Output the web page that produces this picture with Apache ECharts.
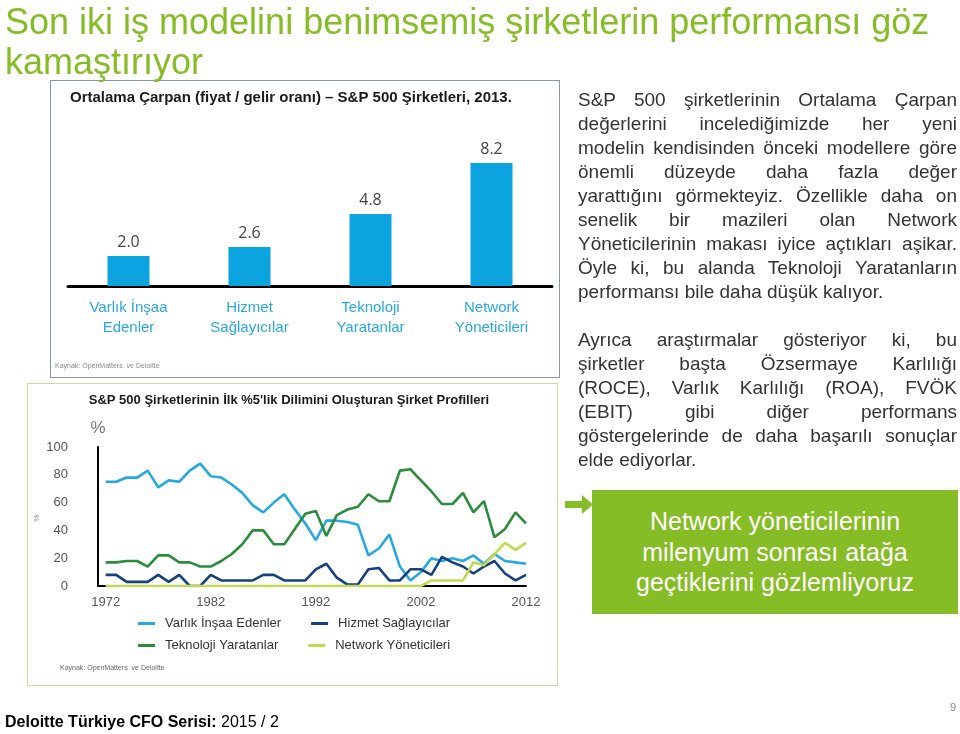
<!DOCTYPE html>
<html>
<head>
<meta charset="utf-8">
<script src="https://cdn.jsdelivr.net/npm/echarts@6/dist/echarts.min.js"></script>
<style>
  html, body { margin: 0; padding: 0; background: #fff; }
  #page { position: relative; width: 960px; height: 734px; overflow: hidden; font-family: Arial, 'Liberation Sans', sans-serif; }
  #chart { position: absolute; left: 0; top: 0; width: 960px; height: 734px; }
  .frame { position: absolute; box-sizing: border-box; }
  .headline { position: absolute; left: 5px; top: 2px; font-size: 36px; line-height: 40px; color: #86BC25; white-space: nowrap; }
  .body { position: absolute; left: 578px; top: 88px; width: 379px; font-size: 19px; line-height: 24px; color: #333; }
  .body div { text-align: justify; text-align-last: justify; }
  .body div.last { text-align-last: left; }
  .box { position: absolute; left: 592px; top: 490px; width: 366px; height: 124px; background: #86BC25; color: #fff;
         font-size: 25px; line-height: 30.5px; text-align: center; display: flex; align-items: center; justify-content: center; }
  .footer { position: absolute; left: 5px; top: 713px; font-size: 16px; color: #000; white-space: nowrap; }
  .pageno { position: absolute; left: 950px; top: 701px; font-size: 11px; color: #888; }
</style>
</head>
<body>
<div id="page">
  <div class="frame" style="left:50px;top:80px;width:510px;height:298px;border:1px solid #8596a6;"></div>
  <div class="frame" style="left:27px;top:383px;width:531px;height:303px;border:1px solid #c8dd98;"></div>
  <div id="chart"></div>
  <div class="headline">Son iki iş modelini benimsemiş şirketlerin performansı göz<br>kamaştırıyor</div>
  <div class="body">
    <div>S&amp;P 500 şirketlerinin Ortalama Çarpan</div>
    <div>değerlerini incelediğimizde her yeni</div>
    <div>modelin kendisinden önceki modellere göre</div>
    <div>önemli düzeyde daha fazla değer</div>
    <div>yarattığını görmekteyiz. Özellikle daha on</div>
    <div>senelik bir mazileri olan Network</div>
    <div>Yöneticilerinin makası iyice açtıkları aşikar.</div>
    <div>Öyle ki, bu alanda Teknoloji Yaratanların</div>
    <div class="last">performansı bile daha düşük kalıyor.</div>
    <div class="last">&nbsp;</div>
    <div>Ayrıca araştırmalar gösteriyor ki, bu</div>
    <div>şirketler başta Özsermaye Karlılığı</div>
    <div>(ROCE), Varlık Karlılığı (ROA), FVÖK</div>
    <div>(EBIT) gibi diğer performans</div>
    <div>göstergelerinde de daha başarılı sonuçlar</div>
    <div class="last">elde ediyorlar.</div>
  </div>
  <svg style="position:absolute;left:560px;top:490px;" width="36" height="30">
    <rect x="5" y="11" width="20" height="7" fill="#86BC25"></rect>
    <polygon points="22,5 33,14.5 22,24" fill="#86BC25"></polygon>
  </svg>
  <div class="box"><div>Network yöneticilerinin<br>milenyum sonrası atağa<br>geçtiklerini gözlemliyoruz</div></div>
  <div class="footer"><b>Deloitte Türkiye CFO Serisi:</b> 2015 / 2</div>
  <div class="pageno">9</div>
</div>
<script>
  // bar chart: ortalama çarpan
  const barCats = ['Varlık İnşaa\nEdenler', 'Hizmet\nSağlayıcılar', 'Teknoloji\nYaratanlar', 'Network\nYöneticileri'];
  const barValues = [2.0, 2.6, 4.8, 8.2];

  // line chart: ilk %5'lik dilim
  const years = [1972, 1973, 1974, 1975, 1976, 1977, 1978, 1979, 1980, 1981,
    1982, 1983, 1984, 1985, 1986, 1987, 1988, 1989, 1990, 1991,
    1992, 1993, 1994, 1995, 1996, 1997, 1998, 1999, 2000, 2001,
    2002, 2003, 2004, 2005, 2006, 2007, 2008, 2009, 2010, 2011, 2012];
  const yearLabels = [1972, 1982, 1992, 2002, 2012];
  const varlik = [75, 75, 78, 78, 83, 71, 76, 75, 83, 88,
    79, 78, 73, 67, 58, 53, 60, 66, 55, 45,
    33, 47, 47, 46, 44, 22, 27, 37, 14, 4,
    10, 20, 18, 20, 18, 22, 16, 23, 18, 17, 16];
  const hizmet = [8, 8, 3, 3, 3, 8, 3, 8, 0, 0,
    8, 4, 4, 4, 4, 8, 8, 4, 4, 4,
    12, 16, 6, 1, 1, 12, 13, 4, 4, 12,
    12, 8, 21, 17, 14, 9, 14, 18, 9, 4, 8];
  const teknoloji = [17, 17, 18, 18, 14, 22, 22, 17, 17, 14,
    14, 18, 23, 30, 40, 40, 30, 30, 41, 52,
    54, 36, 51, 55, 57, 66, 61, 61, 83, 84,
    76, 68, 59, 59, 67, 53, 61, 35, 41, 53, 45];
  const network = [0, 0, 0, 0, 0, 0, 0, 0, 0, 0,
    0, 0, 0, 0, 0, 0, 0, 0, 0, 0,
    0, 0, 0, 0, 0, 0, 0, 0, 0, 0,
    0, 4, 4, 4, 4, 17, 15, 23, 31, 26, 31];

  const names = ['Varlık İnşaa Edenler', 'Hizmet Sağlayıcılar', 'Teknoloji Yaratanlar', 'Network Yöneticileri'];
  const colors = ['#25A9DE', '#17407E', '#2C8C3C', '#C3D94E'];

  const pair = arr => years.map((y, i) => [y, arr[i]]);
  const lineSeries = (name, arr, color) => ({
    type: 'line', name: name, xAxisIndex: 1, yAxisIndex: 1,
    data: pair(arr), showSymbol: false, symbol: 'none',
    lineStyle: { color: color, width: 2.6 }, itemStyle: { color: color }
  });

  const legendText = { color: '#333', fontSize: 13, fontFamily: 'Arial', padding: [0, 0, 0, 5] };

  const myChart = echarts.init(document.getElementById('chart'));
  myChart.setOption({
    animation: false,
    graphic: [
      { type: 'text', x: 70, y: 98, style: { text: 'Ortalama Çarpan (fiyat / gelir oranı) – S&P 500 Şirketleri, 2013.',
        fontFamily: "'Liberation Sans Narrow', 'Arial Narrow', Arial", fontWeight: 'bold', fontSize: 15, fill: '#1a1a1a', verticalAlign: 'middle' } },
      { type: 'text', x: 55, y: 366, style: { text: 'Kaynak: OpenMatters  ve Deloitte', fontSize: 7, fill: '#888', verticalAlign: 'middle' } },
      { type: 'text', x: 289, y: 400, style: { text: "S&P 500 Şirketlerinin İlk %5'lik Dilimini Oluşturan Şirket Profilleri",
        fontFamily: 'Arial', fontWeight: 'bold', fontSize: 13, fill: '#1a1a1a', align: 'center', verticalAlign: 'middle' } },
      { type: 'text', x: 37, y: 518, rotation: Math.PI / 2, style: { text: '%', fontSize: 8, fill: '#888', align: 'center', verticalAlign: 'middle' } },
      { type: 'text', x: 60, y: 668, style: { text: 'Kaynak: OpenMatters  ve Deloitte', fontSize: 7, fill: '#666', verticalAlign: 'middle' } }
    ],
    grid: [
      { left: 68, top: 136, width: 484, height: 150 },
      { left: 98, top: 447, width: 428, height: 139 }
    ],
    legend: [
      { data: names.slice(0, 2), left: 133, top: 612, icon: 'rect', itemWidth: 17, itemHeight: 3, itemGap: 30, textStyle: legendText },
      { data: names.slice(2), left: 133, top: 634, icon: 'rect', itemWidth: 17, itemHeight: 3, itemGap: 30, textStyle: legendText }
    ],
    xAxis: [
      {
        type: 'category', gridIndex: 0, data: barCats,
        axisLine: { lineStyle: { color: '#000', width: 3 } },
        axisTick: { show: false },
        axisLabel: { color: '#29A7DE', fontSize: 15, lineHeight: 20, margin: 12, fontFamily: 'Arial' }
      },
      {
        type: 'value', gridIndex: 1, min: 1971.27, max: 2012,
        splitLine: { show: false }, axisTick: { show: false },
        axisLine: { lineStyle: { color: '#000', width: 2 } },
        axisLabel: { customValues: yearLabels, color: '#555', fontSize: 13, margin: 10, fontFamily: 'Arial',
          formatter: v => String(Math.round(v)) }
      }
    ],
    yAxis: [
      { type: 'value', gridIndex: 0, min: 0, max: 10, show: false },
      {
        type: 'value', gridIndex: 1, min: 0, max: 100, interval: 20,
        splitLine: { show: false }, axisTick: { show: false },
        axisLine: { show: true, lineStyle: { color: '#000', width: 2 } },
        axisLabel: { color: '#555', fontSize: 13, margin: 30, fontFamily: 'Arial' },
        name: '%', nameGap: 10, nameTextStyle: { color: '#777', fontSize: 17 }
      }
    ],
    series: [
      {
        type: 'bar', xAxisIndex: 0, yAxisIndex: 0, data: barValues, barWidth: 42,
        itemStyle: { color: '#0CA4E0' },
        label: { show: true, position: 'top', distance: 6, formatter: p => p.value.toFixed(1),
          color: '#444', fontSize: 16, fontFamily: "'Open Sans', sans-serif" }
      },
      lineSeries(names[0], varlik, colors[0]),
      lineSeries(names[1], hizmet, colors[1]),
      lineSeries(names[2], teknoloji, colors[2]),
      lineSeries(names[3], network, colors[3])
    ]
  });
</script>
</body>
</html>
